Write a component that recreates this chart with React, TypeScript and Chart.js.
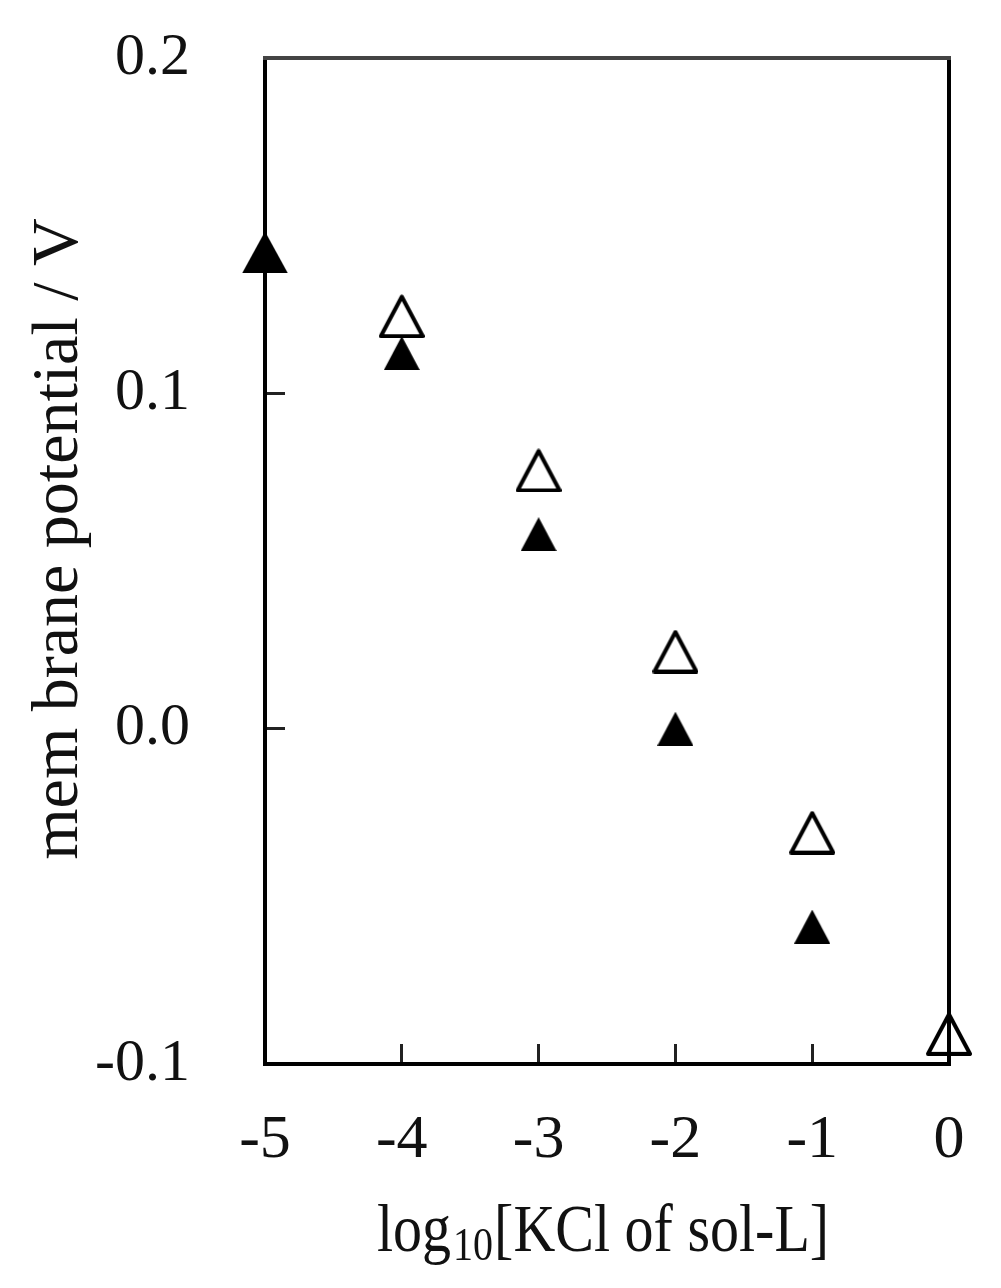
import React, { useEffect, useRef } from "react";
import { Chart, registerables } from "chart.js";

Chart.register(...registerables);

// Data
const filledX = [-5, -4, -3, -2, -1];
const filledY = [0.142, 0.112, 0.058, 0.0, -0.059];
const openX = [-4, -3, -2, -1, 0];
const openY = [0.123, 0.077, 0.023, -0.031, -0.091];
const xTickLabels = ["-5", "-4", "-3", "-2", "-1", "0"];
const yTickLabels = ["-0.1", "0.0", "0.1", "0.2"];
const yTitle = "mem brane potential / V";
const xTitleMain = "log";
const xTitleSub = "10";
const xTitleRest = "[KCl of sol-L]";

const SERIF = "'Liberation Serif', 'Times New Roman', serif";

function triangle(w: number, h: number, filled: boolean, lw: number): HTMLCanvasElement {
  const c = document.createElement("canvas");
  c.width = w;
  c.height = h;
  const ctx = c.getContext("2d")!;
  ctx.beginPath();
  if (filled) {
    ctx.moveTo(w / 2, 0);
    ctx.lineTo(w, h);
    ctx.lineTo(0, h);
    ctx.closePath();
    ctx.fillStyle = "#000";
    ctx.fill();
  } else {
    const p = lw / 2;
    ctx.moveTo(w / 2, p + 0.5);
    ctx.lineTo(w - p, h - p);
    ctx.lineTo(p, h - p);
    ctx.closePath();
    ctx.lineJoin = "round";
    ctx.lineWidth = lw;
    ctx.strokeStyle = "#000";
    ctx.stroke();
  }
  return c;
}

export default function App() {
  const ref = useRef<HTMLCanvasElement | null>(null);

  useEffect(() => {
    if (!ref.current) return;
    const bigFilled = triangle(46, 42, true, 0);
    const smallFilled = triangle(36, 34, true, 0);
    const open = triangle(46, 44, false, 4);

    const framePlugin = {
      id: "frame",
      beforeDatasetsDraw(chart: any) {
        const { ctx, chartArea: a } = chart;
        ctx.save();
        ctx.lineCap = "square";
        ctx.strokeStyle = "#000";
        ctx.lineWidth = 4;
        ctx.beginPath();
        ctx.moveTo(a.left, a.top);
        ctx.lineTo(a.left, a.bottom);
        ctx.lineTo(a.right, a.bottom);
        ctx.lineTo(a.right, a.top);
        ctx.stroke();
        ctx.strokeStyle = "#444";
        ctx.lineWidth = 4;
        ctx.beginPath();
        ctx.moveTo(a.left, a.top);
        ctx.lineTo(a.right, a.top);
        ctx.stroke();
        ctx.restore();
      },
    };

    const titlePlugin = {
      id: "titles",
      afterDraw(chart: any) {
        const { ctx, chartArea: a } = chart;
        ctx.save();
        ctx.fillStyle = "#111";
        // y title
        ctx.save();
        ctx.translate(77, (a.top + a.bottom) / 2 - 22);
        ctx.rotate(-Math.PI / 2);
        ctx.font = `66px ${SERIF}`;
        ctx.textAlign = "center";
        ctx.textBaseline = "alphabetic";
        ctx.fillText(yTitle, 0, 0);
        ctx.restore();
        // x title with subscript
        ctx.save();
        ctx.translate(0, 1251);
        ctx.scale(1, 1.18);
        ctx.textBaseline = "alphabetic";
        ctx.textAlign = "left";
        ctx.font = `58px ${SERIF}`;
        let x = 377;
        ctx.fillText(xTitleMain, x, 0);
        x += ctx.measureText(xTitleMain).width + 2;
        ctx.font = `40px ${SERIF}`;
        ctx.fillText(xTitleSub, x, 8);
        x += ctx.measureText(xTitleSub).width + 1;
        ctx.font = `58px ${SERIF}`;
        ctx.fillText(xTitleRest, x, 0);
        ctx.restore();
        ctx.restore();
      },
    };

    const chart = new Chart(ref.current, {
      type: "scatter",
      data: {
        datasets: [
          {
            label: "open",
            data: openX.map((x, i) => ({ x, y: openY[i] })),
            pointStyle: open as any,
            pointRadius: 20,
            clip: false as any,
            showLine: false,
          },
          {
            label: "filled",
            data: filledX.map((x, i) => ({ x, y: filledY[i] })),
            pointStyle: filledX.map((_, i) => (i === 0 ? bigFilled : smallFilled)) as any,
            pointRadius: 20,
            clip: false as any,
            showLine: false,
          },
        ],
      },
      plugins: [framePlugin, titlePlugin],
      options: {
        responsive: false,
        animation: false,
        events: [],
        layout: { padding: { top: 58, right: 52, left: 0, bottom: 0 } },
        plugins: {
          legend: { display: false },
          tooltip: { enabled: false },
          title: { display: false },
        },
        scales: {
          x: {
            type: "linear",
            min: -5,
            max: 0,
            border: { display: false },
            grid: {
              drawOnChartArea: false,
              drawTicks: true,
              tickLength: -20,
              lineWidth: 3,
              color: "#222",
            },
            ticks: {
              stepSize: 1,
              autoSkip: false,
              maxRotation: 0,
              minRotation: 0,
              padding: 60,
              color: "#111",
              font: { family: SERIF, size: 62 },
              callback: (_v: any, i: number) => xTickLabels[i],
            },
            afterFit: (s: any) => {
              s.height = 224;
              s.paddingLeft = 0;
              s.paddingRight = 0;
              s.paddingTop = 0;
              s.paddingBottom = 0;
            },
          },
          y: {
            type: "linear",
            min: -0.1,
            max: 0.2,
            border: { display: false },
            grid: {
              drawOnChartArea: false,
              drawTicks: true,
              tickLength: -20,
              lineWidth: 3,
              color: "#222",
            },
            ticks: {
              stepSize: 0.1,
              autoSkip: false,
              padding: 95,
              color: "#111",
              font: { family: SERIF, size: 60 },
              callback: (_v: any, i: number) => yTickLabels[i],
            },
            afterFit: (s: any) => {
              s.width = 265;
              s.paddingLeft = 0;
              s.paddingRight = 0;
              s.paddingTop = 0;
              s.paddingBottom = 0;
            },
          },
        },
      } as any,
    });
    return () => chart.destroy();
  }, []);

  return (
    <div style={{ position: "absolute", left: 0, top: 0, width: 1001, height: 1288, background: "#fff" }}>
      <canvas ref={ref} width={1001} height={1288} style={{ width: 1001, height: 1288, display: "block" }} />
    </div>
  );
}
